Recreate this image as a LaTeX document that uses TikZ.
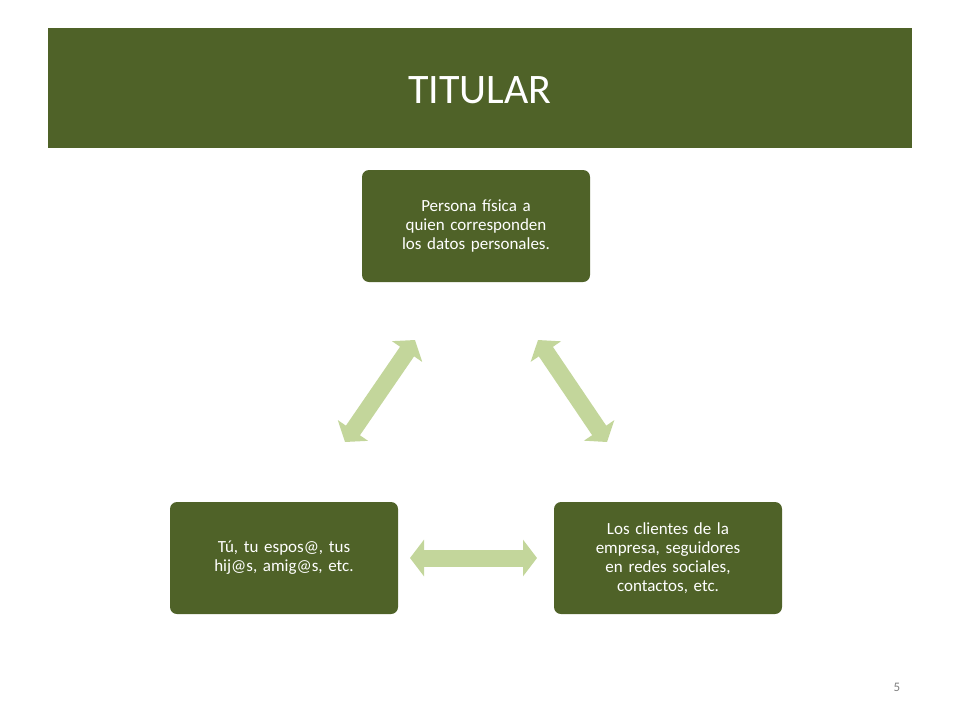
\documentclass[tikz,border=0pt]{standalone}
\usepackage{fontspec}
\setmainfont{Carlito}
\usetikzlibrary{arrows.meta}
\definecolor{dk}{HTML}{4F6228}
\definecolor{lt}{HTML}{C3D69B}
\begin{document}
\begin{tikzpicture}[x=1pt,y=-1pt,
  box/.style={fill=dk,rounded corners=7pt,minimum width=228pt,minimum height=112pt,text width=218pt,align=center,text=white,font=\fontsize{17}{19}\selectfont},
  dbl/.style={lt,line width=17pt,{Triangle[width=36pt,length=14pt]}-{Triangle[width=36pt,length=14pt]}}]
\useasboundingbox (0,0) rectangle (960,720);
\fill[dk] (48,28) rectangle (912,148);
\node[text=white,font=\fontsize{42}{46}\selectfont] (t) at (480,90) {TITULAR};
\node[box] (a) at (476,226) {Persona física a\\quien corresponden\\los datos personales.};
\node[box] (b) at (284,558) {Tú, tu espos@, tus\\hij@s, amig@s, etc.};
\node[box] (c) at (668,558) {Los clientes de la\\empresa, seguidores\\en redes sociales,\\contactos, etc.};
\coordinate (l1) at (415,340); \coordinate (l2) at (345,442);
\coordinate (r1) at (538,340); \coordinate (r2) at (607,442);
\coordinate (m1) at (410,558); \coordinate (m2) at (537,558);
\draw[dbl] (l1) -- (l2);
\draw[dbl] (r1) -- (r2);
\draw[dbl] (m1) -- (m2);
\node[text=gray,font=\fontsize{13}{15}\selectfont] (p) at (897,687) {5};
\end{tikzpicture}
\end{document}
